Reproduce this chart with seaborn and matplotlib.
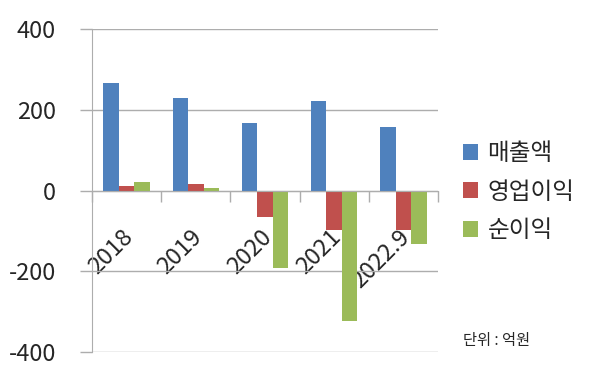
import numpy as np
import matplotlib
matplotlib.use("Agg")
import matplotlib.pyplot as plt
import matplotlib.transforms as mtransforms
import pandas as pd
import seaborn as sns

years = ["2018", "2019", "2020", "2021", "2022.9"]
sales = [266, 230, 166, 221, 157]
op_income = [11, 16, -65, -97, -99]
net_income = [20, 7, -192, -322, -133]
series = ["매출액", "영업이익", "순이익"]
colors = ["#4F81BD", "#C0504D", "#9BBB59"]
yticks = [-400, -200, 0, 200, 400]

df = pd.DataFrame({
    "year": years * 3,
    "value": sales + op_income + net_income,
    "series": [s for s in series for _ in years],
})

sns.set_style("white")
plt.rcParams["font.family"] = ["Noto Sans CJK KR", "DejaVu Sans"]

grey = "#ADADAD"
fig = plt.figure(figsize=(6, 3.81), dpi=100)
ax = fig.add_axes([92 / 600, 1 - 352 / 381, 346 / 600, 323 / 381])

sns.barplot(data=df, x="year", y="value", hue="series", order=years,
            hue_order=series, palette=colors, width=0.67, saturation=1,
            linewidth=0, ax=ax)

ax.set_ylim(-400, 400)
ax.set_xlim(-0.5, len(years) - 0.5)
ax.set_yticks(yticks)
ax.set_yticklabels([str(v) for v in yticks])
ax.set_xlabel("")
ax.set_ylabel("")
ax.yaxis.grid(True, color=grey, lw=1)
ax.xaxis.grid(False)
ax.set_axisbelow(True)

for s in ["top", "right"]:
    ax.spines[s].set_visible(False)
ax.spines["left"].set_color(grey)
ax.spines["bottom"].set_color(grey)
ax.spines["bottom"].set_position(("data", 0))

ax.tick_params(axis="y", length=9, width=1, color=grey, pad=17, labelsize=17,
               left=True)
ax.set_xticks(np.arange(-0.5, len(years), 1.0), minor=True)
ax.tick_params(axis="x", which="minor", length=8, width=1, color=grey,
               direction="out", bottom=True)
ax.tick_params(axis="x", which="major", length=0, pad=31, labelsize=17)
offset = mtransforms.ScaledTranslation(3 / 100, 0, fig.dpi_scale_trans)
for lab in ax.get_xticklabels():
    lab.set_rotation(45)
    lab.set_ha("right")
    lab.set_va("center")
    lab.set_rotation_mode("anchor")
    lab.set_transform(lab.get_transform() + offset)

handles, labels = ax.get_legend_handles_labels()
ax.legend_.remove()
fig.legend(handles, labels, loc="upper left", bbox_to_anchor=(463 / 600, 1 - 142 / 381),
           frameon=False, fontsize=17, handlelength=0.64, handleheight=0.64,
           handletextpad=0.4, labelspacing=0.66, borderpad=0, borderaxespad=0)

fig.text(463 / 600, 1 - 341 / 381, "단위 : 억원", fontsize=11, va="center")

fig.savefig("out.png", dpi=100)
